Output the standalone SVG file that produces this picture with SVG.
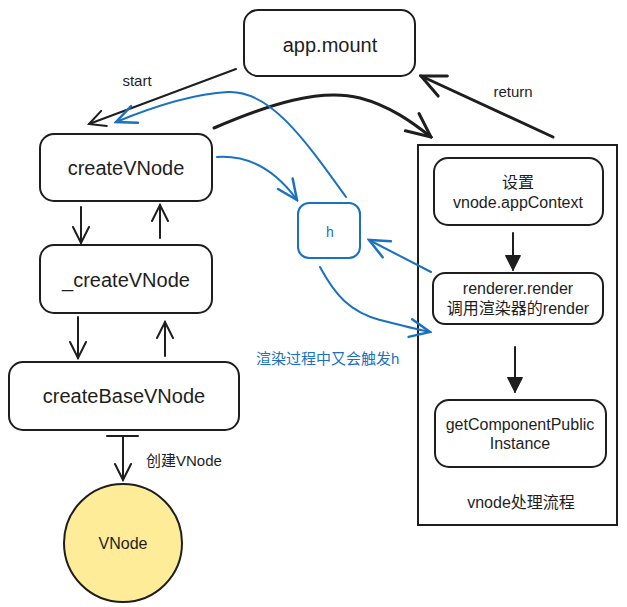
<svg xmlns="http://www.w3.org/2000/svg" width="627" height="607" viewBox="0 0 627 607">
  <style>
    .box { fill: #ffffff; stroke: #1e1e1e; stroke-width: 2; }
    .t { font-family: "Liberation Sans", "Noto Sans CJK SC", sans-serif; fill: #1e1e1e; text-anchor: middle; dominant-baseline: central; }
    .start { text-anchor: start; }
    .big { font-size: 20px; }
    .mid { font-size: 16px; }
    .sm { font-size: 15px; }
    .ln { fill: none; stroke: #1e1e1e; stroke-width: 2; stroke-linecap: round; }
    .thick { stroke-width: 3; }
    .bl { fill: none; stroke: #1971c2; stroke-width: 2; stroke-linecap: round; }
    .blt { font-family: "Liberation Sans", "Noto Sans CJK SC", sans-serif; fill: #1971c2; dominant-baseline: central; }
  </style>
  <defs>
    <marker id="open" viewBox="0 0 20 20" refX="18" refY="10" markerWidth="20" markerHeight="20" markerUnits="userSpaceOnUse" orient="auto">
      <path d="M2,2 L18,10 L2,18" fill="none" stroke="#1e1e1e" stroke-width="2" stroke-linecap="round"/>
    </marker>
    <marker id="openBig" viewBox="0 0 28 28" refX="26" refY="14" markerWidth="28" markerHeight="28" markerUnits="userSpaceOnUse" orient="auto">
      <path d="M2,3 L26,14 L2,25" fill="none" stroke="#1e1e1e" stroke-width="3" stroke-linecap="round"/>
    </marker>
    <marker id="openBlue" viewBox="0 0 24 24" refX="22" refY="12" markerWidth="24" markerHeight="24" markerUnits="userSpaceOnUse" orient="auto">
      <path d="M2,3 L22,12 L2,21" fill="none" stroke="#1971c2" stroke-width="2.5" stroke-linecap="round"/>
    </marker>
    <marker id="solid" viewBox="0 0 20 20" refX="18" refY="10" markerWidth="18" markerHeight="18" markerUnits="userSpaceOnUse" orient="auto">
      <path d="M2,2 L18,10 L2,18 Z" fill="#1e1e1e" stroke="#1e1e1e" stroke-width="1.5" stroke-linejoin="round"/>
    </marker>
  </defs>

  <!-- container for the vnode handling flow -->
  <g id="flow-container">
    <rect x="418" y="145" width="199" height="380" fill="#ffffff" stroke="#1e1e1e" stroke-width="2"/>
    <text class="t mid" x="521" y="502">vnode处理流程</text>
  </g>

  <g id="app-mount">
    <rect class="box" x="244" y="10" width="171" height="66" rx="14"/>
    <text class="t big" x="330" y="45">app.mount</text>
  </g>

  <g id="createVNode">
    <rect class="box" x="40" y="134" width="172" height="67" rx="14"/>
    <text class="t big" x="126" y="168">createVNode</text>
  </g>

  <g id="_createVNode">
    <rect class="box" x="40" y="245" width="172" height="68" rx="14"/>
    <text class="t big" x="126" y="280">_createVNode</text>
  </g>

  <g id="createBaseVNode">
    <rect class="box" x="9" y="362" width="230" height="68" rx="14"/>
    <text class="t big" x="124" y="396">createBaseVNode</text>
  </g>

  <g id="vnode">
    <circle cx="123" cy="543" r="59" fill="#ffec99" stroke="#1e1e1e" stroke-width="2"/>
    <text class="t mid" x="123" y="543">VNode</text>
  </g>

  <g id="h">
    <rect x="298" y="203" width="62" height="55" rx="11" fill="#ffffff" stroke="#1971c2" stroke-width="2"/>
    <text class="blt" x="330" y="232" text-anchor="middle" font-size="14">h</text>
  </g>

  <g id="set-appContext">
    <rect class="box" x="434" y="158" width="169" height="67" rx="14"/>
    <text class="t mid" x="518" y="182">设置</text>
    <text class="t mid" x="518" y="202">vnode.appContext</text>
  </g>

  <g id="renderer-render">
    <rect class="box" x="433" y="273" width="170" height="51" rx="12"/>
    <text class="t mid" x="518" y="288">renderer.render</text>
    <text class="t mid" x="518" y="308">调用渲染器的render</text>
  </g>

  <g id="getComponentPublicInstance">
    <rect class="box" x="435" y="400" width="171" height="67" rx="14"/>
    <text class="t mid" x="520" y="424">getComponentPublic</text>
    <text class="t mid" x="520" y="443">Instance</text>
  </g>

  <g id="connectors">
    <!-- app.mount -> createVNode -->
    <path class="ln" d="M236,69 L89,124" marker-end="url(#open)"/>
    <text class="t sm" x="137" y="80">start</text>

    <!-- createVNode -> flow container -->
    <path class="ln thick" d="M214,128 C270,104 320,88 360,98 C390,106 412,122 431,137" marker-end="url(#openBig)"/>

    <!-- flow container -> app.mount -->
    <path class="ln thick" d="M553,137 L421,76" marker-end="url(#openBig)"/>
    <text class="t sm" x="513" y="91">return</text>

    <!-- vertical chain -->
    <path class="ln" d="M81,207 L81,243" marker-end="url(#open)"/>
    <path class="ln" d="M160,238 L160,205" marker-end="url(#open)"/>
    <path class="ln" d="M78,317 L78,358" marker-end="url(#open)"/>
    <path class="ln" d="M165,356 L165,322" marker-end="url(#open)"/>

    <!-- createBaseVNode -> VNode -->
    <path class="ln" d="M107,436 L138,436"/>
    <path class="ln" d="M123,436 L123,480" marker-end="url(#open)"/>
    <text class="t start sm" x="146" y="460">创建VNode</text>

    <!-- flow steps -->
    <path class="ln" d="M513,233 L513,270" marker-end="url(#solid)"/>
    <path class="ln" d="M515,347 L515,392" marker-end="url(#solid)"/>

    <!-- blue: createVNode -> h -->
    <path class="bl" d="M217,157 C248,155 274,168 297,200" marker-end="url(#openBlue)"/>
    <!-- blue: h -> createVNode -->
    <path class="bl" d="M346,197 C305,140 270,90 228,92 C190,94 150,108 116,122" marker-end="url(#openBlue)"/>
    <!-- blue: renderer.render -> h -->
    <path class="bl" d="M431,272 L369,240" stroke-width="2.5" marker-end="url(#openBlue)"/>
    <!-- blue: h -> renderer.render -->
    <path class="bl" d="M320,267 C335,295 350,312 380,320 C400,325 415,329 430,332" stroke-width="2.5" marker-end="url(#openBlue)"/>
    <text class="blt" x="256" y="358" font-size="15">渲染过程中又会触发h</text>
  </g>
</svg>
